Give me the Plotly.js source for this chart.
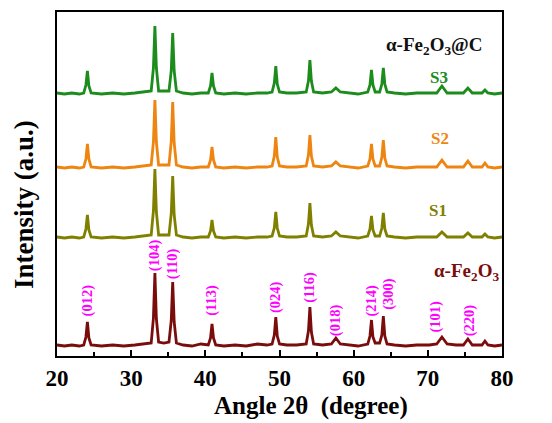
<!DOCTYPE html>
<html><head><meta charset="utf-8">
<script src="https://cdn.plot.ly/plotly-3.0.1.min.js"></script>
<style>body{margin:0;background:#fff}#c{width:552px;height:423px}</style>
</head><body><div id="c"></div>
<script>
// 2θ sample points (degrees)
const twoTheta = [20,21,22,23, 23.6,23.9,24.1,24.3,24.6, 26,27.5,29,30.5,31.8,
  32.7,33.0,33.2,33.4,33.7, 34.4, 35.1,35.4,35.6,35.8,36.1, 37,38.2,39.4,
  40.4,40.7,40.9,41.1,41.4, 42.5,44,45.5,47,48.3, 49.0,49.3,49.5,49.7,50.0, 51,52.3,
  53.6,53.9,54.1,54.3,54.6, 55.8, 57.0,57.6,58.2, 59.3,60.6,
  61.9,62.2,62.4,62.6,62.9, 63.2, 63.5,63.8,64.0,64.2,64.5, 65.5,67,68.5,70.2,
  71.2,71.9,72.6, 73.8, 74.8,75.4,76.0, 76.9, 77.3,77.7,78.1, 79,80];

// intensities above each pattern's own baseline (a.u.)
const fe2o3 = [1,0,1,0, 1,9,24,8,1, 0,1,0,1,2, 3,28,73,27,4, 3, 4,25,64,24,3, 1,0,2,
  1,8,22,8,1, 0,1,0,2,1, 2,11,29,10,2, 1,1, 2,15,39,14,2, 1, 2,8,2, 1,0,
  2,10,26,9,3, 3, 3,11,30,10,2, 1,0,1,1, 2,9,2, 1, 1,7,1, 1, 1,5,1, 0,1];
const s1 = [1,0,1,0, 1,9,23,8,1, 0,1,0,1,2, 3,27,69,26,3, 3, 3,24,62,23,3, 1,0,1,
  1,7,18,7,1, 0,1,0,1,1, 2,10,26,10,2, 1,1, 2,14,35,13,2, 1, 2,6,2, 1,0,
  2,9,22,8,2, 2, 2,10,25,9,2, 1,0,1,1, 1,6,1, 1, 1,5,1, 1, 1,4,1, 0,1];
const s2 = [1,0,1,0, 1,9,24,9,1, 0,1,0,1,2, 3,26,68,26,3, 3, 3,26,66,25,3, 1,0,1,
  1,8,21,8,1, 0,1,0,1,1, 2,12,31,11,2, 1,1, 2,13,33,12,2, 1, 2,6,2, 1,0,
  2,9,24,9,2, 2, 2,11,28,10,2, 1,0,1,1, 1,8,1, 1, 1,7,1, 1, 1,5,1, 0,1];
const s3 = [1,0,1,0, 1,9,23,8,1, 0,1,0,1,2, 3,26,68,26,3, 3, 3,23,61,23,3, 1,0,1,
  1,8,21,8,1, 0,1,0,1,1, 2,11,28,10,2, 1,1, 2,13,34,13,2, 1, 2,6,2, 1,0,
  2,9,24,9,2, 2, 2,10,26,10,2, 1,0,1,1, 1,8,1, 1, 1,6,1, 1, 1,4,1, 0,1];

const seriesNames = ['α-Fe2O3','S1','S2','S3'];
const offsets = [10, 118, 188, 262];

// Miller indices of α-Fe2O3 reflections
const hkl = ['(012)','(104)','(110)','(113)','(024)','(116)','(018)','(214)','(300)','(101)','(220)'];
const hklX = [24.1,33.1,35.6,40.8,49.4,54.0,57.5,62.4,64.6,70.9,75.6];
const hklY = [38,83,75,38,41,51,18,38,44,21,18];

const colors = ['#7b0c0c','#808000','#ee8510','#1c8c1c'];
const data = [fe2o3, s1, s2, s3].map((arr, i) => ({
  x: twoTheta, y: arr.map(v => v + offsets[i]), type: 'scatter', mode: 'lines',
  name: seriesNames[i], line: {color: colors[i], width: 2.8}, hoverinfo: 'skip'
}));

const serif = 'Liberation Serif, Times New Roman, serif';
const ann = hkl.map((t, i) => ({
  x: hklX[i], y: hklY[i], xref: 'x', yref: 'y', text: t, showarrow: false,
  textangle: -90, xanchor: 'center', yanchor: 'bottom',
  font: {family: serif, size: 14.5, color: '#ff00ff', weight: 'bold'}
}));
const labelFont = (c, s) => ({family: serif, size: s, color: c, weight: 'bold'});
const L = 57, R = 502, T = 12, B = 356;
const pixLabels = [
  {x: 434, y: 46, text: 'α-Fe<sub>2</sub>O<sub>3</sub>@C', font: labelFont('#111', 19)},
  {x: 439, y: 77, text: 'S3', font: labelFont(colors[3], 17)},
  {x: 440, y: 138, text: 'S2', font: labelFont(colors[2], 17)},
  {x: 438, y: 210, text: 'S1', font: labelFont(colors[1], 17)},
  {x: 466, y: 272, text: 'α-Fe<sub>2</sub>O<sub>3</sub>', font: labelFont(colors[0], 19)},
  {x: 311, y: 406, text: 'Angle 2θ  (degree)', font: labelFont('#000', 25)},
  {x: 24, y: 205, text: 'Intensity (a.u.)', textangle: -90, font: labelFont('#000', 27)}
];
pixLabels.forEach(a => {
  ann.push(Object.assign({showarrow: false, xref: 'paper', yref: 'paper',
    xanchor: 'center', yanchor: 'middle'}, a, {
    x: (a.x - L) / (R - L), y: (B - a.y) / (B - T)}));
});

const layout = {
  width: 552, height: 423,
  margin: {l: L, r: 552 - R, t: T, b: 423 - B},
  paper_bgcolor: '#fff', plot_bgcolor: '#fff',
  showlegend: false,
  font: {family: serif, color: '#000'},
  xaxis: {
    range: [20, 80], dtick: 10, tick0: 20,
    showline: true, linecolor: '#000', linewidth: 2, mirror: true,
    ticks: 'inside', ticklen: 6, tickwidth: 2, tickcolor: '#000',
    minor: {dtick: 5, ticks: 'inside', ticklen: 4, tickwidth: 2, tickcolor: '#000'},
    showgrid: false, zeroline: false, ticklabelstandoff: 0,
    tickfont: {family: serif, size: 23, color: '#000', weight: 'bold'}
  },
  yaxis: {
    range: [0, 344], showticklabels: false, ticks: '',
    showline: true, linecolor: '#000', linewidth: 2, mirror: true,
    showgrid: false, zeroline: false
  },
  annotations: ann
};
Plotly.newPlot('c', data, layout, {displayModeBar: false, staticPlot: true});
</script></body></html>
